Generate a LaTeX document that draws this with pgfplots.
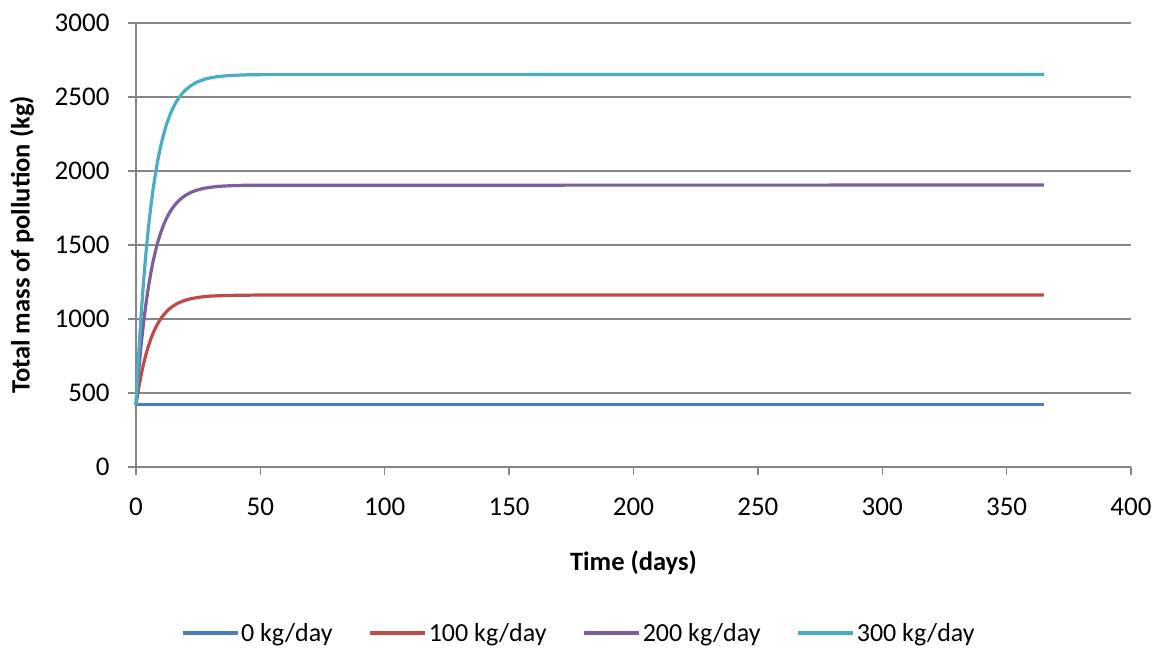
\documentclass[border=0pt]{standalone}
\usepackage{pgfplots}
\pgfplotsset{compat=1.18}
\usepackage{fontspec}
\setmainfont{Carlito}
\definecolor{cblue}{HTML}{4A7EBB}
\definecolor{cred}{HTML}{BE4B48}
\definecolor{cpurple}{HTML}{7D5FA0}
\definecolor{ccyan}{HTML}{4BACC6}
\definecolor{cgrid}{HTML}{868686}
\begin{document}
\begin{tikzpicture}
\useasboundingbox (-136bp,-181bp) rectangle (1022bp,467bp);
\begin{axis}[
  at={(0bp,0bp)}, anchor=south west,
  scale only axis, width=995bp, height=444bp,
  xmin=0, xmax=400, ymin=0, ymax=3000,
  xtick={0,50,...,400}, ytick={0,500,...,3000},
  axis x line=bottom, axis y line=left,
  axis line style={-, cgrid, line width=1.3bp},
  tick align=outside, tick pos=left,
  major tick length=8bp,
  tick style={cgrid, line width=1.3bp},
  ymajorgrids, grid style={cgrid, line width=1.3bp},
  /pgf/number format/assume math mode=true,
  /pgf/number format/1000 sep={},
  ticklabel style={font=\fontsize{27bp}{32bp}\selectfont},
  xticklabel style={anchor=center, yshift=-32bp},
  yticklabel style={anchor=east, xshift=-15bp},
  xlabel={\textbf{Time (days)}},
  ylabel={\textbf{Total mass of pollution (kg)}},
  label style={font=\fontsize{26.5bp}{30bp}\selectfont},
  xlabel style={at={(axis description cs:0.5,0)}, anchor=center, yshift=-96bp},
  ylabel style={at={(axis description cs:0,0.5)}, anchor=center, xshift=0bp, yshift=114bp},
  legend style={at={(0.445,-0.374)}, anchor=center, draw=none, fill=none,
    legend columns=4, font=\fontsize{26bp}{30bp}\selectfont,
    /tikz/every even column/.append style={column sep=34bp}},
  legend image code/.code={\draw[#1] (0bp,0bp) -- (55bp,0bp);},
  every axis plot/.append style={line width=3.2bp, line join=round},
  clip=false,
]
\addplot[cblue] coordinates {(0,420) (365,420)};
\addlegendentry{0 kg/day}
\addplot[cred] coordinates {(0,420) (1,526) (2,617) (3,694) (4,761) (5,818) (6,867) (7,909) (8,945) (9,976) (10,1003) (11,1025) (12,1045) (13,1062) (14,1076) (15,1088) (16,1099) (17,1108) (18,1115) (19,1122) (20,1128) (22,1137) (24,1143) (26,1148) (28,1152) (30,1155) (33,1157) (36,1159) (40,1160) (45,1161) (50,1162) (365,1162)};
\addlegendentry{100 kg/day}
\addplot[cpurple] coordinates {(0,420) (1,632) (2,813) (3,969) (4,1102) (5,1217) (6,1315) (7,1399) (8,1471) (9,1533) (10,1586) (11,1632) (12,1671) (13,1704) (14,1733) (15,1757) (16,1778) (17,1796) (18,1812) (19,1825) (20,1837) (22,1855) (24,1868) (26,1878) (28,1885) (30,1890) (33,1896) (36,1899) (40,1902) (45,1904) (50,1904) (365,1905)};
\addlegendentry{200 kg/day}
\addplot[ccyan] coordinates {(0,420) (1,738) (2,1011) (3,1245) (4,1446) (5,1618) (6,1765) (7,1892) (8,2000) (9,2093) (10,2173) (11,2241) (12,2300) (13,2350) (14,2393) (15,2430) (16,2462) (17,2489) (18,2512) (19,2532) (20,2549) (22,2576) (24,2596) (26,2611) (28,2622) (30,2630) (33,2638) (36,2643) (40,2647) (45,2650) (50,2651) (365,2652)};
\addlegendentry{300 kg/day}
\end{axis}
\end{tikzpicture}
\end{document}
